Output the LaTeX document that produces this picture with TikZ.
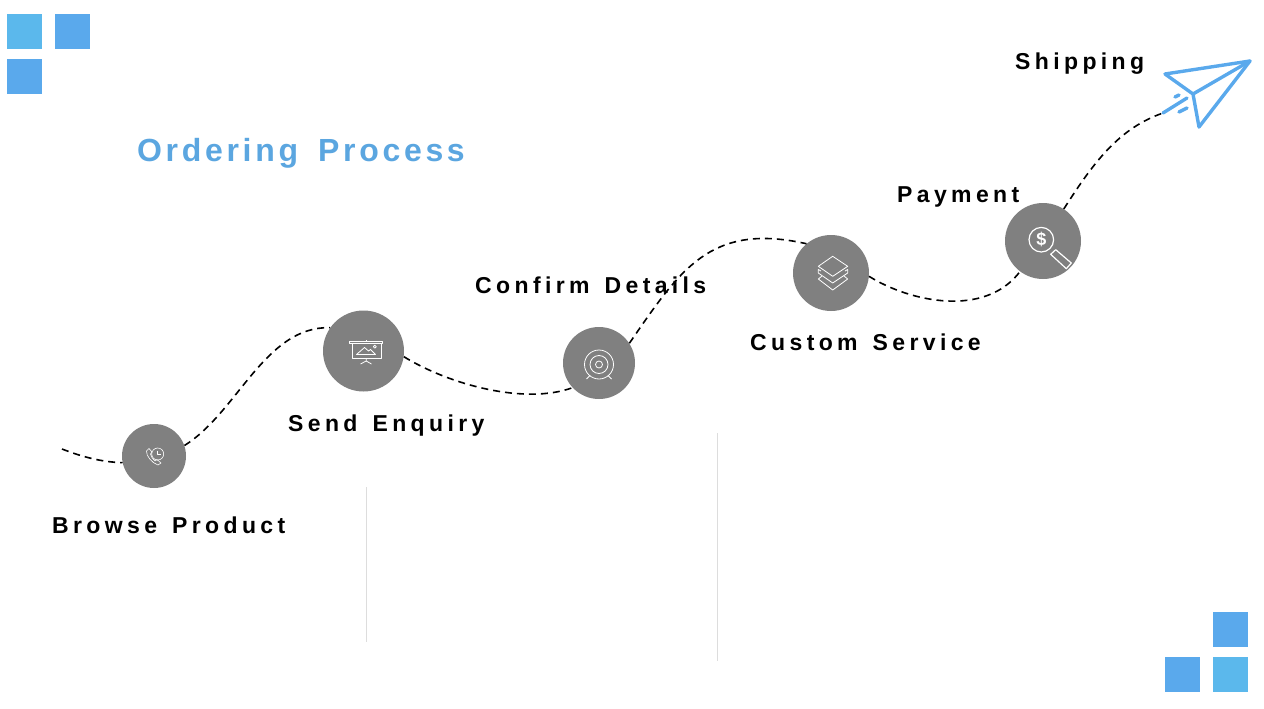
\documentclass[tikz,border=0pt]{standalone}
\usepackage{fontspec}
\setmainfont{Liberation Sans}
\newfontfamily\spacedfont[LetterSpace=19,WordSpace=1.4]{Liberation Sans}
\newfontfamily\headfont[LetterSpace=11.5,WordSpace=1.6]{Liberation Sans}
\definecolor{lightblue}{HTML}{5BB8EC}
\definecolor{midblue}{HTML}{5AA9EC}
\definecolor{titleblue}{HTML}{5BA6E0}
\definecolor{stepgray}{HTML}{808080}
\definecolor{rulegray}{HTML}{DDDDDD}

\begin{document}
\begin{tikzpicture}[
    x=1pt, y=-1pt,
    square/.style={rectangle, minimum size=35pt, inner sep=0pt, anchor=north west},
    stepdot/.style={circle, fill=stepgray, inner sep=0pt},
    steplabel/.style={anchor=base west, inner sep=0pt, font=\spacedfont\bfseries\fontsize{23}{26}\selectfont},
    route/.style={line width=1.6pt, dash pattern=on 7pt off 5pt},
    glyph/.style={draw=white, line width=0.8pt, line join=round},
    plane/.style={draw=midblue, line width=3.4pt, line join=round, line cap=round},
    sepline/.style={draw=rulegray, line width=0.8pt}
  ]
  \useasboundingbox (0,0) rectangle (1264,709);

  % ---- Corner squares ----
  \node[square, fill=lightblue] (tl1) at (7,14) {};
  \node[square, fill=midblue]   (tl2) at (55,14) {};
  \node[square, fill=midblue]   (tl3) at (7,59) {};
  \node[square, fill=midblue]   (br1) at (1213,612) {};
  \node[square, fill=midblue]   (br2) at (1165,657) {};
  \node[square, fill=lightblue] (br3) at (1213,657) {};

  % ---- Title ----
  \node[anchor=base west, inner sep=0pt, text=titleblue,
        font=\headfont\bfseries\fontsize{32}{36}\selectfont] (title) at (137,161) {Ordering Process};

  % ---- Steps ----
  \node[stepdot, minimum size=64pt] (browse)  at (154,456) {};
  \node[stepdot, minimum size=81pt] (send)    at (363.5,351) {};
  \node[stepdot, minimum size=72pt] (confirm) at (599,363) {};
  \node[stepdot, minimum size=76pt] (custom)  at (831,273) {};
  \node[stepdot, minimum size=76pt] (payment) at (1043,241) {};

  % ---- Labels ----
  \node[steplabel] (browselabel)  at (52,533)   {Browse Product};
  \node[steplabel] (sendlabel)    at (288,431)  {Send Enquiry};
  \node[steplabel] (confirmlabel) at (475,293)  {Confirm Details};
  \node[steplabel] (customlabel)  at (750,350)  {Custom Service};
  \node[steplabel] (paymentlabel) at (897,202)  {Payment};
  \node[steplabel] (shiplabel)    at (1015,70)  {Shipping};

  % ---- Route ----
  \coordinate (start) at (62,449);
  \coordinate (tail)  at (1163,113);
  \draw[route] (start) .. controls (80,456) and (100,462) .. (browse.192);
  \draw[route] (browse.19) .. controls (238,412) and (265,326) .. (send.145);
  \draw[route] (send.-8) .. controls (450,385) and (525,405) .. (confirm.223);
  \draw[route] (confirm.33) .. controls (680,270) and (710,222) .. (custom.130);
  \draw[route] (custom.-5) .. controls (910,302) and (985,318) .. (payment.-127);
  \draw[route] (payment.57) .. controls (1095,160) and (1120,128) .. (tail);

  % ---- Separators ----
  \coordinate (sep1a) at (366,487);
  \coordinate (sep1b) at (366,642);
  \coordinate (sep2a) at (717,433);
  \coordinate (sep2b) at (717,661);
  \draw[sepline] (sep1a) -- (sep1b);
  \draw[sepline] (sep2a) -- (sep2b);

  % ---- Phone icon ----
  \begin{scope}[shift={(browse.center)}]
    \draw[glyph, line width=0.6pt] (3.7,-2) circle (6);
    \draw[glyph, line width=0.6pt] (3.7,-5.5) -- (3.7,-2) -- (6.5,-2);
    \draw[glyph, line width=0.6pt] (-5,-7.5) -- (-7.5,-5) .. controls (-8,0) and (-2,7) .. (4,9)
      -- (7,7) -- (3,3.5) -- (1,5) .. controls (-1,3) and (-3,1) .. (-3.5,-2) -- (-2,-4) -- cycle;
  \end{scope}

  % ---- Screen icon ----
  \begin{scope}[shift={(send.center)}]
    \draw[glyph] (-13.7,-10) rectangle (19,-7.3);
    \draw[glyph] (-11.3,-7.3) rectangle (18,7.7);
    \draw[glyph] (2.7,-10) -- (2.7,-11.5);
    \draw[glyph] (2.7,7.7) -- (2.7,10) (-3,13) -- (2.7,10) -- (8,13);
    \draw[glyph] (-7,3.5) -- (1,-3.5) -- (5,0) -- (7,-1.5) -- (12,3.5) -- cycle;
    \draw[glyph] (11.3,-4.3) circle (1.5);
  \end{scope}

  % ---- Target icon ----
  \begin{scope}[shift={(confirm.center)}]
    \draw[glyph] (0,1.5) circle (14.5);
    \draw[glyph] (0,1.5) circle (9);
    \draw[glyph] (0,1.5) circle (3.5);
    \draw[glyph] (-9,12.5) -- (-12.5,16) (9,12.5) -- (12.5,16);
  \end{scope}

  % ---- Layers icon ----
  \begin{scope}[shift={(custom.center)}]
    \draw[glyph] (1.7,-16.7) -- (16.7,-6.7) -- (1.7,3.3) -- (-12.7,-6.7) -- cycle;
    \draw[glyph] (-10,-2) -- (-12.7,-3.5) -- (-12.7,0) -- (1.7,10) -- (16.7,0) -- (16.7,-3.5) -- (14,-2);
    \draw[glyph] (-9,3) -- (-12.7,6) -- (1.7,17) -- (16.7,6) -- (13,3);
  \end{scope}

  % ---- Magnifier icon ----
  \begin{scope}[shift={(payment.center)}]
    \draw[glyph, line width=1.2pt] (-1.7,-1.3) circle (12.3);
    \draw[glyph, line width=1.2pt] (12.7,8.7) -- (28.3,22) -- (23.3,27.7) -- (7.7,13.3) -- cycle;
    \node[text=white, inner sep=0pt, font=\bfseries\fontsize{18}{18}\selectfont] (dollar) at (-1.7,-1.3) {\$};
  \end{scope}

  % ---- Paper plane ----
  \coordinate (nose)  at (1250,61);
  \coordinate (wing)  at (1165,74);
  \coordinate (fold)  at (1193,94);
  \coordinate (keel)  at (1199,127);
  \draw[plane] (fold) -- (wing) -- (nose) -- (keel) -- cycle;
  \draw[plane] (fold) -- (nose);
  \draw[plane] (tail) -- (1187,98);
  \draw[plane] (1179,112) -- (1187,108);
  \draw[plane] (1175,97) -- (1179,95);
\end{tikzpicture}
\end{document}
